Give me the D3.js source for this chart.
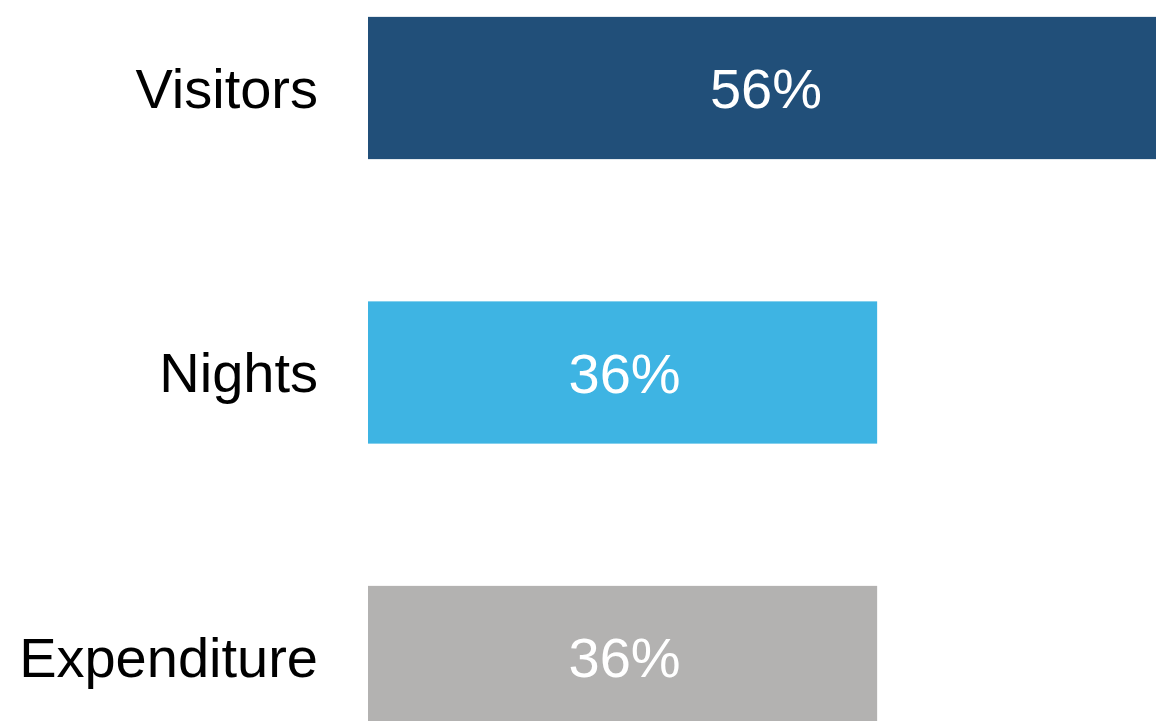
<!DOCTYPE html>
<html>
<head>
<meta charset="utf-8">
<script src="https://cdn.jsdelivr.net/npm/d3@7"></script>
<style>
  html, body { margin: 0; padding: 0; background: #fff; overflow: hidden; }
  svg { display: block; font-family: "Liberation Sans", Arial, sans-serif; }
</style>
</head>
<body>
<div id="chart"></div>
<script>
(function()
{
    var categories = ["Visitors", "Nights", "Expenditure"];
    var values = [56, 36, 36];
    var labels = ["56%", "36%", "36%"];
    var colors = ["#214f79", "#3eb4e3", "#b3b2b1"];

    var width = 1156;
    var height = 721;

    var svg = d3.select("#chart")
        .append("svg")
        .attr("width", width)
        .attr("height", height);

    var x = d3.scaleLinear()
        .domain([0, 56])
        .range([368, 1160]);

    var y = d3.scaleBand()
        .domain(categories)
        .range([-54.25, 799.25])
        .paddingInner(0.5)
        .paddingOuter(0.25);

    var rows = svg.selectAll(".row").data(categories)
        .enter().append("g")
        .attr("class", "row");

    rows.append("rect")
        .attr("x", x(0))
        .attr("y", function(d){return y(d)})
        .attr("width", function(d, i){return x(values[i]) - x(0)})
        .attr("height", y.bandwidth())
        .attr("fill", function(d, i){return colors[i]});

    // category names on the left
    rows.append("text")
        .attr("x", x(0) - 50)
        .attr("y", function(d){return y(d) + y.bandwidth() / 2})
        .attr("dy", "0.35em")
        .attr("text-anchor", "end")
        .attr("font-size", 56)
        .attr("fill", "#000")
        .text(function(d){return d});

    // value labels inside bars
    rows.append("text")
        .attr("x", function(d, i){return (x(0) + x(values[i])) / 2 + 2})
        .attr("y", function(d){return y(d) + y.bandwidth() / 2})
        .attr("dy", "0.36em")
        .attr("text-anchor", "middle")
        .attr("font-size", 56)
        .attr("fill", "#fff")
        .text(function(d, i){return labels[i]});
})();
</script>
</body>
</html>
